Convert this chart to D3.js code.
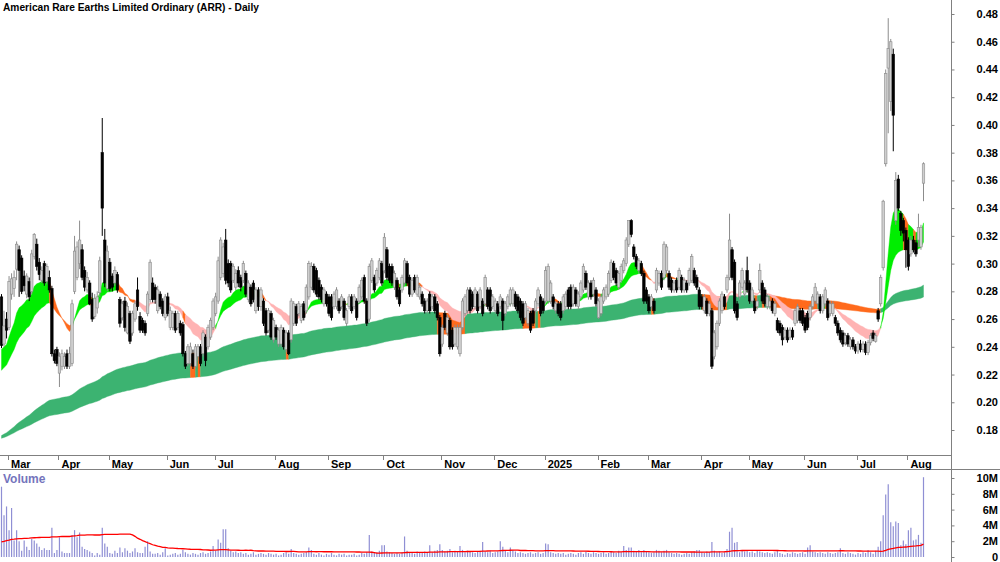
<!DOCTYPE html>
<html>
<head>
<meta charset="utf-8">
<script src="https://cdn.jsdelivr.net/npm/d3@7"></script>
<style>
  body { margin: 0; background: #ffffff; }
  svg { display: block; }
  .narrow { font-family: "Liberation Sans Narrow", "Arial Narrow", "Liberation Sans", Arial, sans-serif; font-weight: bold; }
  .axislbl { font-family: "Liberation Sans", Arial, sans-serif; font-weight: bold; font-size: 11px; }
</style>
</head>
<body>
<div id="chart"></div>
<script>
var title = 'American Rare Earths Limited Ordinary (ARR) - Daily';

var monthLabels = ['Mar','Apr','May','Jun','Jul','Aug','Sep','Oct','Nov','Dec','2025','Feb','Mar','Apr','May','Jun','Jul','Aug'];
var monthStart = [3,23,43,66,85,109,130,152,175,196,216,237,257,278,297,319,340,360];
var priceTicks = [0.18,0.20,0.22,0.24,0.26,0.28,0.30,0.32,0.34,0.36,0.38,0.40,0.42,0.44,0.46,0.48];
var volumeTicks = [0,2,4,6,8,10];

// daily prices in cents
var opens = [
27.6,24.2,26.0,25.4,27.8,28.2,29.6,31.0,30.4,29.1,
27.8,28.7,28.0,30.5,31.4,30.1,28.8,30.0,28.7,29.0,
28.2,23.5,23.8,22.1,22.6,22.6,23.5,22.6,22.8,28.0,
29.0,30.0,31.0,29.5,28.1,28.6,27.4,26.2,26.8,27.9,
38.0,31.7,28.2,30.1,29.1,28.6,29.2,27.4,26.1,27.3,
25.0,26.4,25.0,26.0,28.1,26.2,25.9,25.7,26.4,27.4,
28.6,28.3,26.6,27.8,27.3,26.1,27.6,25.4,25.4,26.4,
25.4,25.7,25.6,23.5,22.8,22.8,23.5,22.6,23.3,24.0,
23.5,24.7,24.0,24.7,25.4,26.4,27.3,29.0,29.3,31.7,
30.0,30.0,28.8,28.3,29.5,29.0,28.8,29.3,27.4,28.3,
28.6,26.6,28.1,26.9,27.3,26.6,25.2,26.4,24.5,25.4,
24.2,24.2,25.2,23.8,25.0,24.5,25.7,26.9,26.4,25.9,
27.1,26.6,27.6,28.3,29.8,29.5,28.8,28.3,27.1,27.8,
27.6,27.6,26.9,26.9,27.3,26.9,27.3,25.7,26.9,27.6,
26.9,27.3,27.3,27.6,29.0,27.3,26.0,28.8,29.0,28.6,
29.0,30.0,29.5,31.0,29.8,29.8,28.3,28.8,28.1,28.1,
28.6,30.0,29.0,27.8,29.0,27.8,27.6,27.8,27.3,26.6,
27.8,26.9,27.6,27.1,26.1,24.2,26.4,25.0,25.9,25.2,
24.2,24.0,23.5,25.4,26.4,26.6,28.1,27.8,26.9,27.8,
26.9,27.3,27.1,28.1,28.1,26.9,26.6,27.1,26.9,27.3,
26.4,26.9,27.1,27.1,27.8,27.6,27.3,27.1,26.1,25.7,
26.4,26.6,26.6,27.1,27.6,27.3,27.3,27.3,27.3,27.6,
26.6,27.1,27.1,26.6,26.9,28.1,28.3,27.1,28.1,26.9,
27.6,28.1,29.3,27.6,28.6,27.8,28.1,26.1,26.4,27.3,
27.6,27.8,28.8,30.0,29.5,28.3,28.8,29.5,30.0,31.4,
33.1,31.2,30.5,29.5,30.0,29.3,28.1,27.6,26.9,27.3,
28.1,28.6,29.3,29.0,29.5,29.3,28.8,28.1,28.8,28.3,
29.0,28.1,28.6,28.6,28.8,29.5,29.0,28.1,27.6,26.6,
27.3,26.4,26.6,23.3,24.0,25.7,26.6,27.6,28.1,29.0,
31.0,30.1,27.1,27.6,28.3,27.8,29.5,28.6,27.3,27.3,
26.9,28.1,28.6,28.1,26.9,26.9,27.3,26.4,25.9,25.7,
25.4,24.7,25.2,24.7,25.2,25.7,25.9,26.6,26.6,26.1,
26.4,26.1,26.9,27.3,27.1,27.6,26.6,27.1,27.3,26.4,
26.4,26.1,25.7,25.2,25.0,24.3,24.8,24.0,24.5,24.0,
23.7,24.2,23.8,24.2,23.6,24.3,25.0,24.4,26.6,27.1,
29.7,37.2,44.1,41.7,45.1,33.1,36.1,33.6,33.1,32.4,
31.7,30.7,31.7,31.5,31.7,31.2,35.8];

var highs = [
27.8,26.6,26.5,29.1,29.3,29.5,31.6,31.3,30.6,29.5,
29.3,29.0,31.0,32.2,31.8,30.4,29.8,30.2,30.0,29.5,
28.4,23.8,24.0,23.6,23.8,23.6,23.8,24.0,27.4,32.0,
31.6,33.1,31.4,29.8,29.4,28.8,27.9,27.8,28.0,30.5,
40.5,32.5,31.3,30.4,29.3,29.8,29.4,27.6,27.3,27.6,
27.2,26.6,26.6,27.3,29.0,26.5,26.1,25.9,28.0,30.3,
29.0,28.5,28.4,28.0,27.5,27.8,27.9,26.9,26.6,26.6,
26.6,25.9,25.8,23.7,24.2,24.3,23.8,24.2,24.2,24.2,
25.2,24.9,25.6,26.1,27.5,27.9,30.5,31.9,31.5,32.5,
30.3,30.2,30.0,29.6,29.8,29.2,30.2,29.5,28.8,28.5,
28.8,28.3,28.3,28.3,27.5,26.8,26.8,26.6,26.1,25.6,
25.4,25.6,25.4,25.2,25.2,27.5,27.3,27.1,27.3,27.1,
27.3,28.5,30.2,30.1,30.0,29.7,29.0,28.5,28.3,28.0,
27.8,27.8,28.0,28.3,27.5,27.8,27.5,26.8,27.8,27.8,
27.8,27.5,28.5,29.0,29.2,27.5,30.0,30.4,29.2,29.7,
30.4,30.2,32.2,31.2,30.0,30.0,29.5,29.0,28.3,29.2,
30.4,30.2,29.2,29.0,29.2,29.2,28.5,28.0,27.5,27.5,
28.0,27.8,27.8,27.3,26.3,25.6,26.6,26.3,26.1,25.4,
25.6,25.6,25.6,27.5,27.8,28.3,28.3,28.0,28.3,28.0,
28.3,27.5,29.2,28.3,28.3,27.8,27.5,27.3,27.8,27.5,
27.3,27.8,28.3,28.3,28.0,27.8,27.5,27.3,27.3,26.8,
26.6,26.8,27.5,28.3,27.8,27.5,29.8,30.0,28.8,27.8,
27.3,27.3,27.3,27.8,28.0,28.3,28.5,28.5,28.3,28.0,
28.8,30.0,29.5,28.8,28.8,29.0,28.3,27.5,27.8,28.3,
28.5,29.5,30.3,30.2,29.7,29.5,30.0,30.4,31.9,33.1,
33.2,31.4,30.7,30.4,30.2,29.5,28.3,27.8,27.8,27.5,
29.7,29.5,29.5,31.6,31.4,29.5,29.0,28.8,29.0,29.7,
29.2,29.0,28.8,29.7,30.7,29.7,29.2,28.3,27.8,27.8,
27.5,27.3,26.8,25.2,25.9,27.5,28.0,27.8,29.2,33.6,
31.2,30.3,27.3,28.8,29.7,28.8,30.5,28.8,28.3,27.5,
27.5,30.0,28.8,28.3,27.8,27.5,27.5,27.3,26.1,25.9,
25.6,25.4,25.4,25.4,25.4,26.8,27.1,26.8,26.8,26.3,
26.6,27.1,27.8,28.6,28.0,27.8,27.8,28.3,27.5,27.3,
27.3,26.3,25.9,25.4,25.2,25.0,25.0,24.7,24.7,24.2,
24.4,24.5,24.4,24.4,24.5,25.0,25.2,25.0,26.8,29.2,
34.6,44.0,47.7,46.2,45.5,36.6,36.4,33.8,33.3,32.6,
31.9,32.0,32.0,31.7,33.6,32.8,37.3];

var lows = [
23.9,24.0,24.6,25.2,27.4,27.6,28.8,27.6,27.8,28.0,
27.5,27.3,27.8,30.3,29.5,28.8,28.6,28.4,28.5,27.9,
23.3,22.8,22.6,21.1,22.3,22.4,22.4,22.4,22.6,27.8,
28.8,29.6,28.8,28.0,27.9,27.0,25.8,26.0,26.4,27.6,
32.0,28.3,28.0,28.0,28.0,28.4,27.9,25.4,25.9,25.1,
24.9,24.2,24.8,25.8,26.6,25.0,25.0,24.8,26.2,27.2,
27.2,27.1,26.4,26.7,26.2,25.9,26.2,25.2,25.2,25.0,
25.2,24.8,23.3,22.4,22.6,22.6,22.4,22.4,23.0,22.6,
23.3,22.6,23.8,24.5,25.2,26.2,27.1,28.8,29.0,28.5,
28.3,27.9,28.6,28.1,28.3,28.0,28.6,27.6,27.2,26.9,
27.2,26.4,26.6,26.6,25.5,24.8,25.0,24.5,24.3,24.5,
24.0,24.0,23.8,23.6,23.4,24.3,25.5,25.5,26.2,25.7,
25.9,26.4,27.4,28.1,27.9,27.6,27.4,27.2,26.9,26.9,
26.2,25.9,26.7,26.7,26.4,26.7,25.9,25.5,26.7,26.4,
26.7,25.9,27.1,27.4,27.1,25.5,25.8,28.6,27.9,28.4,
28.8,28.4,29.3,28.8,28.6,28.4,28.1,27.4,26.9,27.9,
28.4,28.4,27.6,27.6,27.9,27.6,27.4,26.9,26.4,26.4,
26.4,26.7,26.4,25.9,23.3,24.0,25.2,24.8,23.8,23.8,
24.0,23.8,23.3,25.2,26.2,26.4,26.4,26.7,26.7,26.4,
26.7,26.2,26.9,26.7,26.4,26.7,26.4,26.2,26.7,25.2,
26.2,26.7,26.9,26.9,26.7,26.4,25.9,25.5,25.9,25.5,
25.0,25.5,26.4,26.9,26.2,26.4,27.1,27.1,27.1,26.7,
26.4,26.2,25.9,26.4,26.7,26.7,26.7,26.9,26.9,26.7,
27.4,27.9,28.1,27.4,27.4,27.6,26.9,26.0,26.2,27.1,
27.4,27.6,28.6,28.8,28.4,28.1,28.6,29.3,29.8,31.2,
31.9,30.3,29.6,29.3,29.1,27.1,27.1,26.4,26.7,26.4,
27.9,28.4,28.1,28.8,29.3,28.1,27.9,27.9,27.9,28.1,
27.9,27.9,27.9,28.4,28.6,28.4,28.1,26.7,26.7,26.4,
26.2,26.2,22.4,23.1,23.8,25.5,26.4,26.7,27.9,28.8,
28.8,26.4,25.9,27.4,28.1,27.6,27.9,27.1,27.1,26.4,
26.7,27.9,27.1,26.9,26.7,26.7,26.4,26.2,25.0,24.8,
24.1,24.5,24.3,24.5,24.5,25.5,25.7,25.7,25.5,25.0,
25.2,25.9,26.7,27.1,26.9,26.4,26.4,26.9,25.9,26.2,
26.2,25.5,24.8,24.3,24.0,24.1,24.0,23.8,23.8,23.5,
23.5,23.6,23.6,23.4,23.4,24.1,24.4,24.3,25.8,26.9,
29.5,37.0,39.4,41.0,38.1,32.8,33.8,32.0,31.6,29.7,
29.5,30.5,30.8,30.5,31.2,31.0,34.5];

var closes = [
24.1,25.5,25.2,28.7,28.9,29.0,31.4,29.5,28.0,28.4,
29.1,27.6,30.7,32.1,29.8,29.2,29.5,28.6,29.8,28.1,
23.5,23.0,22.8,23.3,23.5,23.3,22.6,23.5,27.1,30.9,
31.2,31.7,29.0,28.3,29.0,27.1,26.0,27.5,27.6,30.2,
34.0,28.6,30.9,28.2,28.3,29.5,28.1,25.7,27.1,25.4,
26.9,24.4,26.4,27.1,26.9,25.2,25.2,25.0,27.8,30.1,
27.4,27.4,28.1,26.9,26.4,27.6,26.4,26.6,26.4,25.2,
26.4,25.0,23.5,22.6,24.0,24.0,22.6,24.0,24.0,22.8,
25.0,23.0,25.4,25.9,27.3,27.6,30.2,31.7,31.2,28.8,
28.6,28.1,29.8,29.3,28.6,28.3,30.0,27.8,28.6,27.1,
27.4,28.1,26.9,28.1,25.7,25.0,26.6,24.7,25.9,24.7,
25.2,25.4,24.0,25.0,23.5,27.3,27.1,25.7,27.1,26.9,
26.1,28.3,30.0,29.8,28.1,27.8,27.6,27.4,28.1,27.1,
26.4,26.1,27.8,28.1,26.6,27.6,26.1,26.6,27.6,26.6,
27.6,26.1,28.3,28.8,27.3,25.7,29.8,30.2,28.1,29.5,
30.2,28.6,31.9,29.0,28.8,28.6,29.3,27.6,27.1,29.0,
30.2,28.6,27.8,28.8,28.1,29.0,28.3,27.1,26.6,27.3,
26.6,27.6,26.6,26.1,23.5,25.4,25.4,26.1,24.0,24.0,
25.4,25.4,25.4,27.3,27.6,28.1,26.6,26.9,28.1,26.6,
28.1,26.4,29.0,26.9,26.6,27.6,27.3,26.4,27.6,25.9,
27.1,27.6,28.1,28.1,26.9,26.6,26.1,25.7,27.1,26.6,
25.2,25.7,27.3,28.1,26.4,26.6,29.5,29.8,28.6,26.9,
27.1,26.4,26.1,27.6,27.8,26.9,26.9,28.3,27.1,27.8,
28.6,29.8,28.3,28.6,27.6,28.8,27.1,27.3,27.6,28.1,
28.3,29.3,30.1,29.0,28.6,29.3,29.8,30.2,31.7,33.1,
32.1,30.5,29.8,30.2,29.3,27.3,27.3,26.6,27.6,26.6,
29.5,29.3,28.3,31.4,31.2,28.3,28.1,28.6,28.1,29.5,
28.1,28.8,28.1,29.5,30.5,28.6,28.3,26.9,26.9,27.6,
26.4,27.1,22.6,25.0,25.7,27.3,27.8,26.9,29.0,31.7,
29.0,26.6,26.1,28.6,29.5,28.6,28.1,27.3,28.1,26.6,
27.3,29.5,27.3,27.1,27.6,27.3,26.6,27.1,25.2,25.0,
24.5,25.2,24.5,25.2,24.7,26.6,26.9,25.9,25.7,25.2,
25.4,26.9,27.6,28.3,27.8,26.6,27.6,28.1,26.1,27.1,
27.1,25.7,25.0,24.5,24.2,24.8,24.2,24.5,24.0,23.7,
24.2,23.8,24.2,23.6,24.3,24.8,24.6,24.8,26.0,29.0,
34.5,43.7,45.5,46.0,40.7,36.0,34.0,32.4,32.2,31.0,
29.8,31.7,31.0,30.7,32.6,32.6,37.2];

// daily volume, millions of shares
var volumes = [
8.9,5.3,6.4,3.4,6.2,2.1,3.4,2.0,0.8,2.1,
1.3,0.9,2.3,2.1,1.7,1.3,0.9,1.1,0.9,0.9,
3.7,0.5,0.9,2.5,0.7,0.5,0.5,0.5,2.8,3.4,
2.5,3.1,1.3,1.0,0.9,0.7,0.5,0.2,0.5,0.3,
3.7,1.7,1.3,0.5,0.4,0.8,0.5,1.2,0.6,1.1,
0.8,0.5,0.7,1.1,0.6,0.5,0.5,1.3,2.0,0.7,
0.4,0.4,0.5,0.3,0.6,1.1,0.2,
0.3,0.4,0.5,0.3,0.4,0.9,0.6,0.4,0.3,0.5,0.4,0.3,0.5,0.6,0.4,0.5,0.7,
1.4,0.8,2.2,1.8,3.5,3.5,1.1,0.8,
0.6,0.7,0.5,0.6,0.4,0.5,0.3,0.4,0.6,0.3,
0.4,0.5,0.4,0.3,0.5,0.4,0.3,0.4,0.2,0.3,
0.5,0.6,0.4,1.0,0.5,0.4,0.3,0.4,0.5,0.6,
1.2,0.9,
0.4,0.3,0.5,0.3,0.2,0.4,0.3,0.5,0.3,0.2,
0.4,0.3,0.4,0.2,0.3,0.3,0.4,0.2,0.3,0.5,0.4,0.6,
2.8,0.7,0.5,0.6,0.8,1.5,1.5,0.7,0.6,0.5,0.4,0.5,0.4,0.6,2.6,0.8,
0.6,0.5,0.4,0.7,0.5,0.6,0.7,0.5,1.5,0.6,0.8,0.9,
1.6,
0.9,0.7,0.8,1.0,0.6,0.8,0.7,1.4,0.9,0.6,0.8,0.7,0.6,0.5,0.7,0.8,
1.9,
0.7,0.6,0.8,0.5,0.6,0.7,
2.0,1.3,
0.8,0.6,1.2,0.9,0.7,0.5,0.6,0.5,0.4,0.5,0.6,0.4,0.5,0.6,0.4,0.5,
1.7,1.6,
0.6,0.5,0.4,0.5,0.4,0.5,0.3,0.4,0.5,0.4,
0.3,0.5,0.6,0.4,0.7,0.5,0.4,0.6,0.5,0.4,
0.5,0.6,0.4,0.5,0.7,0.6,0.5,0.8,0.6,
1.4,0.9,1.2,1.2,0.8,0.7,0.9,
0.6,0.9,0.7,0.6,0.5,0.6,0.9,0.8,0.6,0.8,
0.9,0.6,0.5,0.4,0.5,0.4,0.3,0.4,0.5,0.4,0.6,0.7,
0.9,0.9,0.6,0.5,0.7,0.6,
1.9,
0.8,0.6,0.7,0.5,0.6,
1.0,3.2,3.7,1.8,1.9,
0.6,0.8,0.7,0.9,0.6,0.7,0.5,0.8,0.7,0.6,
0.5,0.6,0.5,0.4,0.6,0.9,0.5,0.4,0.3,0.5,
0.4,0.6,0.5,0.4,0.5,0.6,0.4,1.2,1.5,0.7,
0.6,0.5,0.6,0.5,0.4,0.6,0.5,0.4,0.5,0.6,1.1,
0.5,0.4,0.6,0.5,0.4,0.3,0.5,0.4,0.6,0.5,0.9,0.6,0.4,0.8,
1.3,2.0,5.3,7.9,9.2,4.4,3.9,4.5,4.3,1.5,2.1,1.6,3.4,3.7,2.1,2.2,2.8,1.8,10.1];

// the 59 sessions before the first bar, estimated from where the volume average starts
var priorVolumes = [
0.4,0.6,0.5,0.3,0.5,0.7,0.4,0.5,0.6,0.4,
0.5,0.3,0.6,0.5,0.4,0.7,0.5,0.4,0.6,0.5,
0.3,0.5,0.6,0.4,0.5,0.6,0.4,0.5,0.7,0.5,
0.4,0.5,0.6,0.3,0.5,0.4,0.6,0.5,0.4,0.5,
0.6,0.5,0.4,0.5,0.6,0.4,0.5,0.7,0.6,0.5,
0.8,6.5,12.0,14.5,9.0,11.0,8.5,10.5,7.5];

// moving average levels at the left edge of the chart (cents)
var shortPeriods = [15, 30];
var shortStart = [23.8, 22.3];
var longPeriods = [150, 250];
var longStart = [17.6, 17.4];

var volPeriod = 60;

var width = 1000, height = 562;
var axisX = 951.5;

var svg = d3.select('#chart').append('svg')
	.attr('width', width)
	.attr('height', height);

var xScale = d3.scaleLinear()
	.domain([0, closes.length - 1])
	.range([1.5, 923.5]);

var yScale = d3.scaleLinear()
	.domain([18, 48])
	.range([430, 14]);

var vScale = d3.scaleLinear()
	.domain([0, 10])
	.range([557, 478]);

function ema(values, period, seed) {
	var k = 2 / (period + 1), out = [seed];
	for (var i = 1; i < values.length; i++) {
		out.push(out[i - 1] + k * (values[i] - out[i - 1]));
	}
	return out;
}

var fastS = ema(closes, shortPeriods[0], shortStart[0]);
var slowS = ema(closes, shortPeriods[1], shortStart[1]);
var fastL = ema(closes, longPeriods[0], longStart[0]);
var slowL = ema(closes, longPeriods[1], longStart[1]);

var allVol = priorVolumes.concat(volumes);
var volAvg = volumes.map(function(d, i) {
	return d3.mean(allVol.slice(i + priorVolumes.length - volPeriod + 1, i + priorVolumes.length + 1));
});

// short ribbon: green while rising, orange when it rolls over or falls sharply, pink otherwise
var shortState = closes.map(function(c, i) {
	var slowUp = i == 0 || slowS[i] >= slowS[i - 1];
	if (fastS[i] >= slowS[i]) return slowUp ? 'up' : 'strong';
	var drop = i >= 5 ? fastS[i] - fastS[i - 5] : 0;
	return (drop < -1.0 && fastS[i] > 1.09 * fastL[i]) ? 'strong' : 'weak';
});
var longState = closes.map(function(c, i) {
	return (i < 5 || fastL[i] >= fastL[i - 5]) ? 'up' : 'down';
});

var colours = { up: '#00ee00', strong: '#ff6a1c', weak: '#ffb3b3', lup: '#3cb371', down: '#ff6a1c' };

function runs(states) {
	var out = [], start = 0;
	for (var i = 1; i <= states.length; i++) {
		if (i == states.length || states[i] != states[start]) {
			out.push({ state: states[start], from: Math.max(start - 1, 0), to: i - 1 });
			start = i;
		}
	}
	return out;
}

svg.append('defs').append('clipPath').attr('id', 'plotclip')
	.append('rect').attr('x', 0).attr('y', 0).attr('width', axisX).attr('height', 455);

var plot = svg.append('g').attr('clip-path', 'url(#plotclip)');

function ribbon(a, b) {
	return d3.area()
		.x(function(i) { return xScale(i); })
		.y0(function(i) { return yScale(a[i]); })
		.y1(function(i) { return yScale(b[i]); });
}

var longArea = ribbon(fastL, slowL);
plot.append('g')
	.selectAll('path')
	.data(runs(longState))
	.enter()
	.append('path')
	.attr('d', function(r) { return longArea(d3.range(r.from, r.to + 1)); })
	.attr('fill', function(r) { return r.state == 'up' ? colours.lup : colours.down; })
	.attr('stroke', function(r) { return r.state == 'up' ? colours.lup : colours.down; })
	.attr('stroke-width', 0.4);

var shortArea = ribbon(fastS, slowS);
plot.append('g')
	.selectAll('path')
	.data(runs(shortState))
	.enter()
	.append('path')
	.attr('d', function(r) { return shortArea(d3.range(r.from, r.to + 1)); })
	.attr('fill', function(r) { return colours[r.state]; })
	.attr('stroke', function(r) { return colours[r.state]; })
	.attr('stroke-width', 0.4);

var candles = plot.append('g')
	.selectAll('g')
	.data(closes)
	.enter()
	.append('g');

candles.append('line')
	.attr('x1', function(d, i) { return xScale(i); })
	.attr('x2', function(d, i) { return xScale(i); })
	.attr('y1', function(d, i) { return yScale(highs[i]); })
	.attr('y2', function(d, i) { return yScale(lows[i]); })
	.attr('stroke', function(d, i) { return d >= opens[i] ? '#8c8c8c' : '#000000'; })
	.attr('stroke-width', 1);

candles.append('rect')
	.attr('x', function(d, i) { return xScale(i) - 1.25; })
	.attr('width', 2.5)
	.attr('y', function(d, i) { return yScale(Math.max(d, opens[i])); })
	.attr('height', function(d, i) { return Math.max(1, Math.abs(yScale(d) - yScale(opens[i]))); })
	.attr('fill', function(d, i) { return d >= opens[i] ? '#cfcfcf' : '#000000'; })
	.attr('stroke', function(d, i) { return d >= opens[i] ? '#8a8a8a' : '#000000'; })
	.attr('stroke-width', 0.6);

// volume panel
svg.append('g')
	.selectAll('line')
	.data(volumes)
	.enter()
	.append('line')
	.attr('x1', function(d, i) { return xScale(i); })
	.attr('x2', function(d, i) { return xScale(i); })
	.attr('y1', vScale(0))
	.attr('y2', function(d) { return vScale(d); })
	.attr('stroke', '#8f8fd4')
	.attr('stroke-width', 1.2);

var volLine = d3.line()
	.x(function(d, i) { return xScale(i); })
	.y(function(d) { return vScale(d); });

svg.append('path')
	.attr('d', volLine(volAvg))
	.attr('fill', 'none')
	.attr('stroke', '#ff0000')
	.attr('stroke-width', 1.3);

svg.append('text')
	.attr('x', 3)
	.attr('y', 483)
	.attr('fill', '#7474bc')
	.style('font-family', '"Liberation Sans", Arial, sans-serif')
	.style('font-size', '12px')
	.style('font-weight', 'bold')
	.text('Volume');

// frame lines
svg.append('line').attr('x1', 0).attr('x2', axisX).attr('y1', 455.5).attr('y2', 455.5).attr('stroke', '#808080');
svg.append('line').attr('x1', 0).attr('x2', width).attr('y1', 469.5).attr('y2', 469.5).attr('stroke', '#808080');
svg.append('line').attr('x1', axisX).attr('x2', axisX).attr('y1', 0).attr('y2', height).attr('stroke', '#808080');

// month axis
var months = svg.append('g');
months.selectAll('line')
	.data(monthStart)
	.enter()
	.append('line')
	.attr('x1', function(d) { return Math.round(xScale(d) - 1) + 0.5; })
	.attr('x2', function(d) { return Math.round(xScale(d) - 1) + 0.5; })
	.attr('y1', 455.5)
	.attr('y2', 460)
	.attr('stroke', '#808080');
months.selectAll('text')
	.data(monthStart)
	.enter()
	.append('text')
	.attr('class', 'narrow')
	.attr('x', function(d) { return xScale(d) + 2; })
	.attr('y', 468)
	.style('font-size', '11px')
	.text(function(d, i) { return monthLabels[i]; });

// price axis
var yAxis = d3.axisRight(yScale)
	.tickValues(priceTicks.map(function(t) { return t * 100; }))
	.tickSize(3)
	.tickFormat(function(d) { return (d / 100).toFixed(2); });

var yAxisG = svg.append('g')
	.attr('transform', 'translate(' + axisX + ',0)')
	.call(yAxis);
yAxisG.select('.domain').remove();
yAxisG.selectAll('line').attr('stroke', '#808080');
yAxisG.selectAll('text')
	.attr('class', 'axislbl')
	.attr('x', 46.5)
	.attr('text-anchor', 'end')
	.attr('fill', '#000');

var vAxis = d3.axisRight(vScale)
	.tickValues(volumeTicks)
	.tickSize(3)
	.tickFormat(function(d) { return d ? d + 'M' : '0'; });

var vAxisG = svg.append('g')
	.attr('transform', 'translate(' + axisX + ',0)')
	.call(vAxis);
vAxisG.select('.domain').remove();
vAxisG.selectAll('line').attr('stroke', '#808080');
vAxisG.selectAll('text')
	.attr('class', 'axislbl')
	.attr('x', 46.5)
	.attr('text-anchor', 'end')
	.attr('fill', '#000');

svg.append('text')
	.attr('class', 'narrow')
	.attr('x', 3)
	.attr('y', 11)
	.style('font-size', '10.2px')
	.text(title);
</script>
</body>
</html>
